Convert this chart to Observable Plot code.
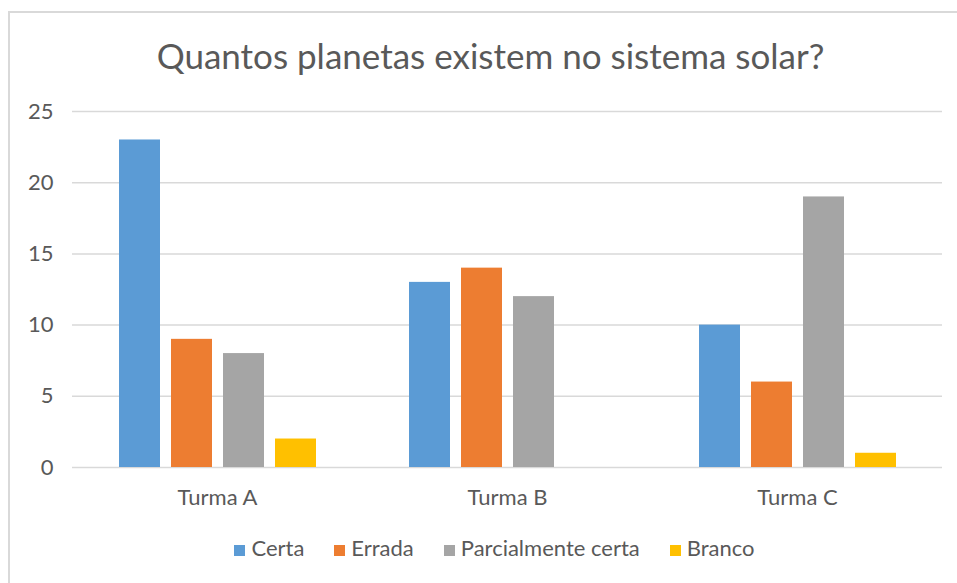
<!DOCTYPE html>
<html>
<head>
<meta charset="utf-8">
<script src="https://cdn.jsdelivr.net/npm/d3@7"></script>
<script src="https://cdn.jsdelivr.net/npm/@observablehq/plot@0.6"></script>
<style>
  html, body { margin: 0; padding: 0; background: #fff; }
  body { width: 957px; height: 583px; position: relative; overflow: hidden; font-family: Lato, "Open Sans", sans-serif; color: #595959; }
  #borderTop { position: absolute; left: 8px; top: 11px; width: 960px; height: 2px; background: #d9d9d9; }
  #borderLeft { position: absolute; left: 8px; top: 11px; width: 2px; height: 600px; background: #d9d9d9; }
  #title { position: absolute; left: 0; top: 35px; width: 957px; padding-left: 24px; box-sizing: border-box; text-align: center; font-size: 35px; line-height: 40px; white-space: nowrap; }
  #chart { position: absolute; left: 0; top: 0; }
  #legend { position: absolute; left: 0; top: 534px; width: 957px; padding-left: 32px; box-sizing: border-box; display: flex; justify-content: center; font-size: 22px; line-height: 28px; white-space: nowrap; }
  .item { display: flex; align-items: center; margin: 0 15px; }
  .sw { width: 11px; height: 11px; margin-right: 6px; margin-top: 4px; }
</style>
</head>
<body>
<div id="borderTop"></div>
<div id="borderLeft"></div>
<div id="title"></div>
<div id="chart"></div>
<div id="legend"></div>
<script>
const titulo = "Quantos planetas existem no sistema solar?";
const turmas = ["Turma A", "Turma B", "Turma C"];
const categorias = ["Certa", "Errada", "Parcialmente certa", "Branco"];
const certa = [23, 13, 10];
const errada = [9, 14, 6];
const parcial = [8, 12, 19];
const branco = [2, 0, 1];
const yTicks = [0, 5, 10, 15, 20, 25];
const cores = ["#5B9BD5", "#ED7D31", "#A5A5A5", "#FFC000"];

const series = [certa, errada, parcial, branco];
const dados = [];
turmas.forEach((t, i) => {
  categorias.forEach((c, j) => {
    dados.push({ turma: t, cat: c, valor: series[j][i] });
  });
});

document.getElementById("title").textContent = titulo;

const chart = Plot.plot({
  width: 957,
  height: 520,
  marginLeft: 72,
  marginRight: 15,
  marginTop: 111,
  marginBottom: 53,
  style: { fontFamily: "Lato, 'Open Sans', sans-serif", fontSize: "22px", color: "#595959", background: "transparent", overflow: "visible" },
  fx: { domain: turmas, padding: 0, label: null, tickSize: 0, tickPadding: 22, axis: "bottom" },
  x: { domain: categorias, paddingInner: 0.216, paddingOuter: 0.88, axis: null },
  y: { domain: [0, 25], ticks: yTicks, tickSize: 0, tickPadding: 19, label: null },
  color: { domain: categorias, range: cores },
  marks: [
    Plot.ruleY(yTicks, { stroke: "#d9d9d9", strokeWidth: 1.5 }),
    Plot.barY(dados, { fx: "turma", x: "cat", y: "valor", fill: "cat" })
  ]
});
document.getElementById("chart").appendChild(chart);

const legend = document.getElementById("legend");
categorias.forEach((c, j) => {
  const item = document.createElement("div");
  item.className = "item";
  const sw = document.createElement("span");
  sw.className = "sw";
  sw.style.background = cores[j];
  const lab = document.createElement("span");
  lab.textContent = c;
  item.appendChild(sw);
  item.appendChild(lab);
  legend.appendChild(item);
});
</script>
</body>
</html>
